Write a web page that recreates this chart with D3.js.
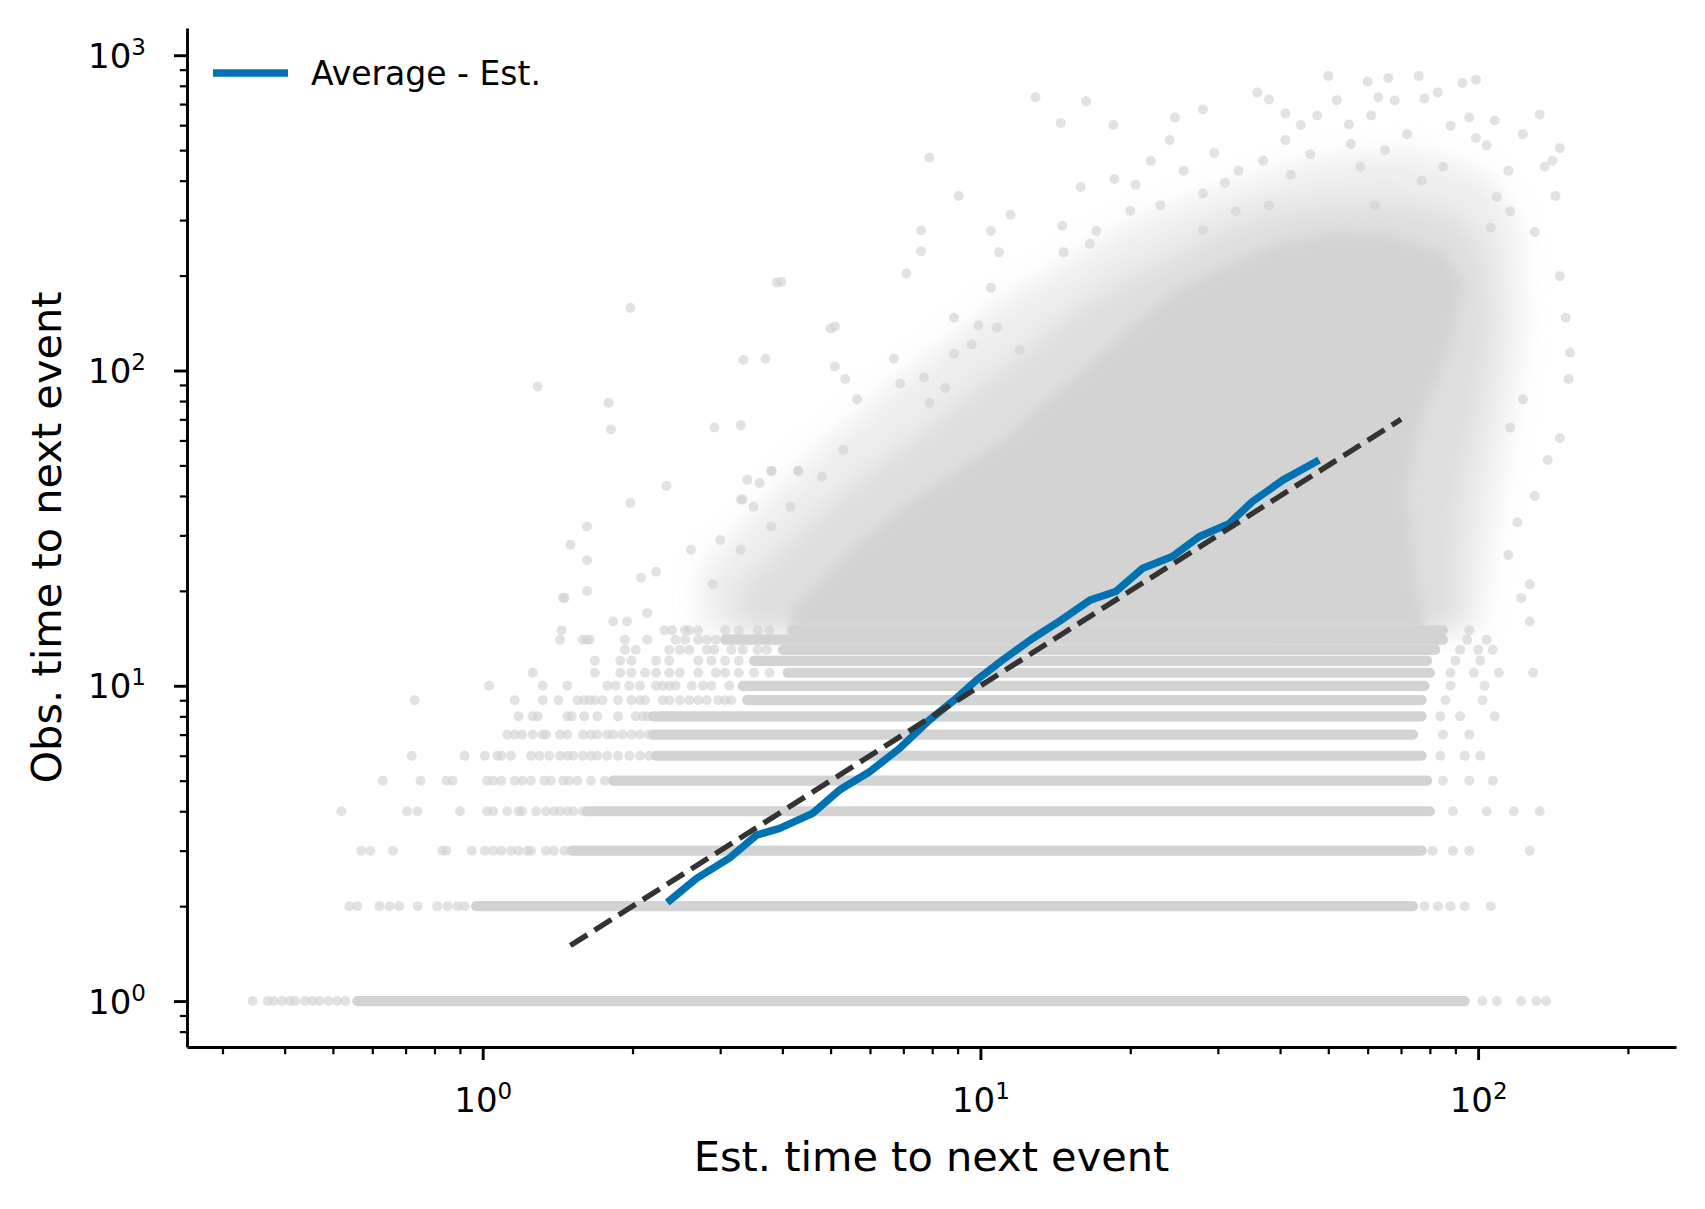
<!DOCTYPE html>
<html>
<head>
<meta charset="utf-8">
<script src="https://cdn.jsdelivr.net/npm/d3@7"></script>
<style>
  body { margin: 0; background: #fff; }
  text { font-family: "DejaVu Sans", sans-serif; }
</style>
</head>
<body>
<svg id="chart"></svg>
<script>
// ---- data ----
// binned average of observed vs estimated time
const avgX = [2.38, 2.69, 3.13, 3.55, 3.95, 4.60, 5.21, 5.99, 6.88, 7.90, 8.85, 9.80,
              11.1, 12.7, 14.4, 16.6, 18.7, 21.2, 24.3, 27.5, 31.6, 35.2, 40.5, 47.2];
const avgY = [2.09, 2.45, 2.84, 3.36, 3.53, 3.94, 4.67, 5.34, 6.33, 7.79, 9.0, 10.4,
              12.1, 14.1, 16.0, 18.7, 19.9, 23.6, 25.7, 29.7, 32.7, 38.4, 44.9, 51.3];
// identity reference line ends
const refEnds = [1.5, 70];

// integer observed values show as horizontal strips of dots
const rowY    = [1, 2, 3, 4, 5, 6, 7, 8, 9, 10, 11, 12, 13, 14, 15];
const rowFrom = [0.56, 0.97, 1.51, 1.62, 1.83, 2.23, 2.2, 2.2, 3.4, 3.33, 4.1, 3.51, 4.01, 3.07, 4.18];
const rowTo   = [94, 74, 77, 80, 79, 77, 74, 77, 77, 78, 80, 79, 82, 85, 85];
const rowLeftDots = [
  [0.345, 0.37, 0.38, 0.395, 0.41, 0.42, 0.44, 0.455, 0.47, 0.49, 0.51, 0.53],
  [0.54, 0.56, 0.62, 0.65, 0.68, 0.74, 0.81, 0.85, 0.89, 0.92],
  [0.57, 0.595, 0.66, 0.83, 0.845, 0.95, 1.01, 1.05, 1.09, 1.14, 1.18, 1.23, 1.25, 1.34, 1.39, 1.46],
  [0.52, 0.705, 0.74, 0.90, 1.02, 1.05, 1.12, 1.18, 1.2, 1.28, 1.34, 1.39, 1.43, 1.48, 1.52, 1.59],
  [0.63, 0.75, 0.845, 0.87, 1.02, 1.05, 1.09, 1.16, 1.2, 1.25, 1.33, 1.37, 1.45, 1.49, 1.55, 1.65, 1.76],
  [0.72, 0.92, 1.01, 1.07, 1.09, 1.14, 1.25, 1.30, 1.36, 1.43, 1.48, 1.52, 1.59, 1.65, 1.70, 1.78, 1.87, 1.97, 2.07, 2.16],
  [1.12, 1.16, 1.2, 1.26, 1.32, 1.34, 1.43, 1.48, 1.59, 1.65, 1.70, 1.78, 1.83, 1.91, 1.99, 2.07, 2.16],
  [1.18, 1.26, 1.29, 1.48, 1.51, 1.60, 1.70, 1.87, 2.03, 2.10, 2.14],
  [0.73, 1.16, 1.32, 1.42, 1.55, 1.60, 1.64, 1.68, 1.74, 1.87, 1.99, 2.07, 2.12, 2.30, 2.37, 2.49, 2.60, 2.71, 2.82, 2.97, 3.07, 3.16],
  [1.03, 1.32, 1.48, 1.78, 1.85, 1.97, 2.07, 2.23, 2.30, 2.37, 2.44, 2.63, 2.77, 2.88, 3.13],
  [1.26, 1.68, 1.89, 1.99, 2.12, 2.23, 2.37, 2.49, 2.71, 2.94, 3.07, 3.27, 3.51, 3.77],
  [1.68, 1.89, 1.99, 2.23, 2.37, 2.71, 2.88, 3.07, 3.27],
  [1.93, 2.03, 2.37, 2.49, 2.60, 2.82, 2.92, 3.16, 3.33, 3.57, 3.72],
  [1.43, 1.59, 1.62, 1.93, 2.14, 2.44, 2.55, 2.71, 2.82, 2.94],
  [1.44, 2.32, 2.40, 2.55, 2.60, 2.71, 3.07, 3.27, 3.57, 3.77]
];
const rowRightDots = [
  [102, 109, 122, 131, 137],
  [78, 83, 88, 94, 106],
  [81, 89, 96, 127],
  [89, 104, 118, 133],
  [85, 96, 107],
  [84, 94, 101],
  [85, 96],
  [84, 92, 108],
  [86, 102],
  [88, 103],
  [88, 98, 110, 129],
  [90, 101],
  [92, 100, 107],
  [95, 104],
  [96]
];

// outlines of the upper point cloud at three densities
const cloudHalo = [[2.73, 23.2], [3.61, 36.3], [4.78, 56.8], [6.32, 83.6], [8.36, 119], [11.1, 166],
  [14.7, 217], [19.4, 284], [25.7, 339], [34.0, 394], [45.0, 457], [59.5, 485], [78.7, 485],
  [104, 418], [120, 292], [123, 139], [117, 76.4], [110, 42.2], [104, 23.2], [101, 15], [2.73, 15]];
const cloudMid = [[3.23, 20.0], [4.39, 31.3], [5.65, 44.7], [7.27, 60.2], [9.62, 86.1], [12.4, 116],
  [15.5, 156], [19.4, 193], [24.3, 230], [31.2, 284], [40.2, 320], [53.2, 339], [70.3, 339],
  [90.6, 310], [104, 237], [107, 139], [101, 76.4], [93.1, 42.2], [90.6, 23.2], [90.6, 15], [3.23, 15]];
const cloudCore = [[4.15, 17.2], [5.50, 26.9], [6.88, 36.3], [8.85, 47.5], [11.1, 60.2], [13.1, 76.4],
  [16.4, 103], [19.4, 131], [24.3, 176], [30.4, 211], [39.1, 252], [51.7, 275], [68.4, 267],
  [85.5, 237], [93.1, 187], [88.1, 119], [78.7, 76.4], [74.5, 56.8], [72.4, 42.2], [74.5, 23.2], [78.7, 15], [4.15, 15]];

// scattered single points around the cloud
const outliers = [
  [50, 860], [60, 825], [66, 847], [76, 860], [93, 817], [99, 836], [36, 762], [38, 724], [52, 720],
  [63, 736], [68, 718], [83, 762], [78, 729], [12.9, 736], [16.3, 714], [28, 673], [41, 653], [47.5, 644],
  [61, 644], [96, 634], [108, 621], [133, 649], [14.5, 610], [18.5, 601], [24.6, 634], [44, 601], [55, 603],
  [72, 562], [88, 597], [123, 562], [99, 546], [24, 538], [29.5, 490], [41, 538], [46, 485], [55.5, 523],
  [65, 500], [104, 518], [146, 507], [7.9, 473], [22, 463], [25.6, 430], [33, 430], [37, 463], [58, 443],
  [85, 443], [115, 430], [136, 443], [141, 463], [143, 358], [9.05, 358], [15.9, 382], [18.6, 405],
  [20.5, 388], [28, 364], [31, 394], [42, 418], [77, 400], [109, 355], [116, 320], [7.6, 278], [11.5, 312],
  [14.6, 288], [17.1, 277], [20, 321], [23, 334], [28, 279], [32.6, 320], [38, 334], [62, 334], [106, 284],
  [130, 275], [7.6, 239], [10.5, 277], [10.9, 237], [10.5, 183], [14.7, 237], [16.6, 252], [7.1, 203],
  [3.9, 190], [5.0, 136], [3.7, 109], [5.1, 103], [5.35, 94], [5.65, 81], [6.7, 109], [6.9, 91], [7.7, 95],
  [7.9, 79], [8.5, 88], [8.85, 147], [9.9, 139], [10.8, 137], [8.85, 113], [9.6, 121], [12, 116], [3.3, 67],
  [5.3, 56], [3.8, 48], [4.3, 48], [3.4, 45], [3.6, 44], [4.8, 46], [3.3, 39], [3.5, 37], [4.15, 37],
  [3.0, 29], [2.9, 21], [3.3, 27], [3.8, 32], [146, 199], [150, 147], [153, 114], [152, 94], [146, 61],
  [138, 52], [130, 40], [120, 33], [115, 26], [127, 21], [122, 19], [127, 16], [123, 81], [116, 66],
  [1.29, 89], [1.98, 158], [1.79, 79], [1.81, 65], [3.98, 191], [3.34, 108], [2.92, 66], [5.1, 138],
  [1.64, 14], [1.62, 25], [1.45, 19], [2.34, 43], [1.98, 38], [1.62, 32], [1.5, 28], [1.46, 19], [1.62, 20],
  [2.08, 22], [2.23, 23], [2.62, 27], [3.33, 39], [3.81, 48], [4.31, 48], [1.83, 16], [1.95, 16], [2.14, 17]
];

const xMajor = [1, 10, 100];
const xMinor = [0.3, 0.4, 0.5, 0.6, 0.7, 0.8, 0.9, 2, 3, 4, 5, 6, 7, 8, 9,
                20, 30, 40, 50, 60, 70, 80, 90, 200];
const yMajor = [1, 10, 100, 1000];
const yMinor = [0.8, 0.9, 2, 3, 4, 5, 6, 7, 8, 9, 20, 30, 40, 50, 60, 70, 80, 90,
                200, 300, 400, 500, 600, 700, 800, 900];

const xLabel = "Est. time to next event";
const yLabel = "Obs. time to next event";
const legendLabel = "Average - Est.";

// ---- layout ----
const W = 1705, H = 1209;
const mLeft = 187, mRight = 1676, mTop = 28, mBottom = 1047;
const grey = "#d3d3d3", blue = "#0072b2";

const svg = d3.select("#chart")
    .attr("width", W)
    .attr("height", H)
    .attr("viewBox", [0, 0, W, H]);
svg.append("rect").attr("width", W).attr("height", H).attr("fill", "#fff");

const defs = svg.append("defs");
defs.append("filter").attr("id", "softWide")
    .attr("x", "-20%").attr("y", "-20%").attr("width", "140%").attr("height", "140%")
  .append("feGaussianBlur").attr("stdDeviation", 14);
defs.append("filter").attr("id", "softNarrow")
    .attr("x", "-20%").attr("y", "-20%").attr("width", "140%").attr("height", "140%")
  .append("feGaussianBlur").attr("stdDeviation", 6);
defs.append("clipPath").attr("id", "plotArea")
  .append("rect").attr("x", mLeft).attr("y", mTop)
    .attr("width", mRight - mLeft).attr("height", mBottom - mTop);

const x = d3.scaleLog().domain([0.2546, 249.8]).range([mLeft, mRight]);
const y = d3.scaleLog().domain([0.715, 1220]).range([mBottom, mTop]);

const plot = svg.append("g").attr("clip-path", "url(#plotArea)");

// cloud shapes, softened at the edges
const area = d3.line().x(d => x(d[0])).y(d => y(d[1]));
plot.append("path").attr("d", area(cloudHalo) + "Z").attr("fill", grey)
    .attr("fill-opacity", 0.4).attr("filter", "url(#softWide)");
plot.append("path").attr("d", area(cloudMid) + "Z").attr("fill", grey)
    .attr("fill-opacity", 0.6).attr("filter", "url(#softWide)");
plot.append("path").attr("d", area(cloudCore) + "Z").attr("fill", grey)
    .attr("filter", "url(#softNarrow)");

// dense strips on integer rows
plot.append("g")
  .selectAll("line")
  .data(rowY)
  .join("line")
    .attr("x1", (d, i) => x(rowFrom[i]))
    .attr("x2", (d, i) => x(rowTo[i]))
    .attr("y1", d => y(d))
    .attr("y2", d => y(d))
    .attr("stroke", grey)
    .attr("stroke-width", 10.2)
    .attr("stroke-linecap", "round");

// single dots
const dots = [];
rowY.forEach((r, i) => {
  rowLeftDots[i].forEach(v => dots.push([v, r]));
  rowRightDots[i].forEach(v => dots.push([v, r]));
});
outliers.forEach(p => dots.push(p));

plot.append("g")
  .selectAll("circle")
  .data(dots)
  .join("circle")
    .attr("cx", d => x(d[0]))
    .attr("cy", d => y(d[1]))
    .attr("r", 5)
    .attr("fill", grey)
    .attr("fill-opacity", 0.65);

// average curve
const line = d3.line().x(d => x(d[0])).y(d => y(d[1]));
plot.append("path")
    .attr("d", line(avgX.map((v, i) => [v, avgY[i]])))
    .attr("fill", "none")
    .attr("stroke", blue)
    .attr("stroke-width", 7.5)
    .attr("stroke-linejoin", "round")
    .attr("stroke-linecap", "square");

// identity line
plot.append("path")
    .attr("d", line(refEnds.map(v => [v, v])))
    .attr("fill", "none")
    .attr("stroke", "#333")
    .attr("stroke-width", 5.4)
    .attr("stroke-dasharray", "20,8.6");

// ---- axes ----
function powerLabel(sel, anchor) {
  sel.each(function(d) {
    const t = d3.select(this).text(null).attr("text-anchor", anchor);
    t.append("tspan").text("10");
    t.append("tspan").attr("dy", -13).attr("font-size", 23).text(Math.round(Math.log10(d)));
  });
}

const gx = svg.append("g").attr("transform", `translate(0,${mBottom})`);
gx.append("g")
    .call(d3.axisBottom(x).tickValues(xMinor).tickSize(7.2).tickFormat(""))
    .call(g => g.select(".domain").remove())
    .call(g => g.selectAll(".tick line").attr("stroke-width", 2.2));
gx.append("g")
    .call(d3.axisBottom(x).tickValues(xMajor).tickSize(13).tickSizeOuter(0))
    .call(g => g.select(".domain").attr("stroke-width", 2.9))
    .call(g => g.selectAll(".tick line").attr("stroke-width", 2.9))
    .call(g => g.selectAll(".tick text")
        .attr("y", 65).attr("dy", 0).attr("font-size", 34)
        .attr("font-family", "DejaVu Sans").attr("fill", "#000")
        .call(powerLabel, "middle"));

const gy = svg.append("g").attr("transform", `translate(${mLeft},0)`);
gy.append("g")
    .call(d3.axisLeft(y).tickValues(yMinor).tickSize(7.2).tickFormat(""))
    .call(g => g.select(".domain").remove())
    .call(g => g.selectAll(".tick line").attr("stroke-width", 2.2));
gy.append("g")
    .call(d3.axisLeft(y).tickValues(yMajor).tickSize(13).tickSizeOuter(0))
    .call(g => g.select(".domain").attr("stroke-width", 2.9))
    .call(g => g.selectAll(".tick line").attr("stroke-width", 2.9))
    .call(g => g.selectAll(".tick text")
        .attr("x", -41).attr("y", 12).attr("dy", 0).attr("font-size", 34)
        .attr("font-family", "DejaVu Sans").attr("fill", "#000")
        .call(powerLabel, "end"));

// axis titles
svg.append("text")
    .attr("x", (mLeft + mRight) / 2)
    .attr("y", 1171)
    .attr("text-anchor", "middle")
    .attr("font-size", 41.5)
    .text(xLabel);

svg.append("text")
    .attr("transform", `translate(61,${(mTop + mBottom) / 2}) rotate(-90)`)
    .attr("text-anchor", "middle")
    .attr("font-size", 41.5)
    .text(yLabel);

// legend
const legend = svg.append("g");
legend.append("line")
    .attr("x1", 213).attr("x2", 288)
    .attr("y1", 73).attr("y2", 73)
    .attr("stroke", blue)
    .attr("stroke-width", 7.5);
legend.append("text")
    .attr("x", 311).attr("y", 85)
    .attr("font-size", 33)
    .text(legendLabel);
</script>
</body>
</html>
